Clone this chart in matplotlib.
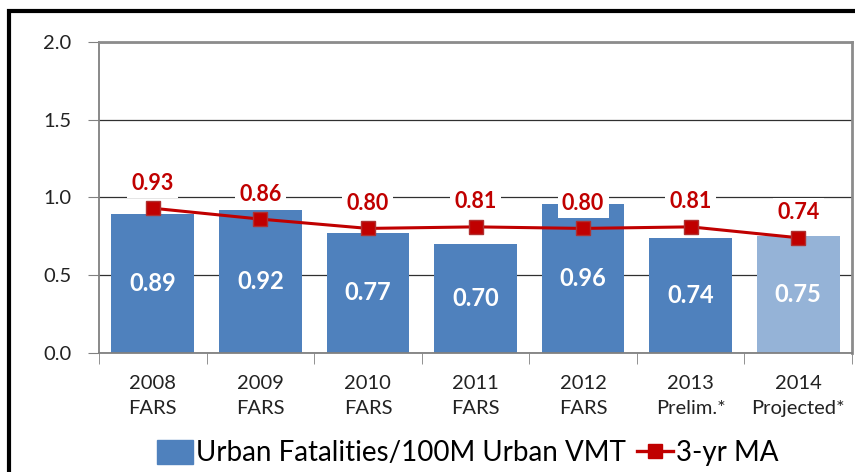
import numpy as np
import matplotlib.pyplot as plt
from matplotlib.patches import Rectangle, Patch
from matplotlib.lines import Line2D

# data
years = ['2008\nFARS', '2009\nFARS', '2010\nFARS', '2011\nFARS',
         '2012\nFARS', '2013\nPrelim.*', '2014\nProjected*']
rate = [0.89, 0.92, 0.77, 0.70, 0.96, 0.74, 0.75]
ma3 = [0.93, 0.86, 0.80, 0.81, 0.80, 0.81, 0.74]

bar_cols = ['#4F81BD'] * 6 + ['#95B3D7']
red = '#C00000'

plt.rcParams['font.family'] = ['Lato', 'DejaVu Sans']

fig = plt.figure(figsize=(8.55, 4.72), dpi=100)
ax = fig.add_axes([99/855, 1 - 352.7/472, (852 - 99)/855, (352.7 - 42)/472])

x = np.arange(len(years))
ax.bar(x, rate, width=0.77, color=bar_cols, zorder=2)
ax.plot(x, ma3, color=red, lw=2.2, marker='s', ms=10,
        mfc=red, mec='#B03030', zorder=4)

# bar value labels (centered in bars)
for xi, v in zip(x, rate):
    ax.text(xi, v/2, f'{v:.2f}', ha='center', va='center', color='white',
            fontsize=17, fontweight='bold', zorder=5)

# moving average labels above points
for xi, v in zip(x, ma3):
    ax.annotate(f'{v:.2f}', (xi, v), textcoords='offset points', xytext=(0, 18),
                ha='center', va='center', color=red, fontsize=15.5, fontweight='bold',
                bbox=dict(boxstyle='square,pad=0.2', fc='white', ec='none'),
                zorder=6)

ax.set_xlim(-0.5, len(years) - 0.5)
ax.set_ylim(0, 2.0)
ax.set_yticks([0, 0.5, 1.0, 1.5, 2.0])
ax.set_yticklabels(['0.0', '0.5', '1.0', '1.5', '2.0'], fontsize=14.5, color='#222222')
ax.yaxis.grid(True, color='#303030', lw=0.9, zorder=0)
ax.set_axisbelow(True)

ax.set_xticks(x)
ax.set_xticklabels(years, fontsize=14.5, color='#222222', linespacing=1.6)
ax.set_xticks(np.arange(-0.5, len(years)), minor=True)
ax.tick_params(axis='x', which='major', length=0, pad=16)
ax.tick_params(axis='x', which='minor', length=8, color='#808080')
ax.tick_params(axis='y', length=8, color='#808080', pad=12)

for s in ['left', 'bottom']:
    ax.spines[s].set_color('#808080')
    ax.spines[s].set_linewidth(1.3)
for s in ['top', 'right']:
    ax.spines[s].set_color('#8C8C8C')
    ax.spines[s].set_linewidth(2)

# legend
handles = [Patch(color='#4F81BD'),
           Line2D([], [], color=red, lw=2.4, marker='s', ms=10, mfc=red, mec=red)]
fig.legend(handles, ['Urban Fatalities/100M Urban VMT', '3-yr MA'],
           loc='center', bbox_to_anchor=(0.547, 1 - 453/472), ncol=2, frameon=False,
           fontsize=20, handlelength=1.3, handleheight=1.0, handletextpad=0.1,
           columnspacing=0.4)

# outer frame
fig.patches.append(Rectangle((9/855, -0.05), 1.0, 1 - 11/472 + 0.05,
                             transform=fig.transFigure, fill=False,
                             ec='black', lw=3))

plt.savefig('out.png', dpi=100)
